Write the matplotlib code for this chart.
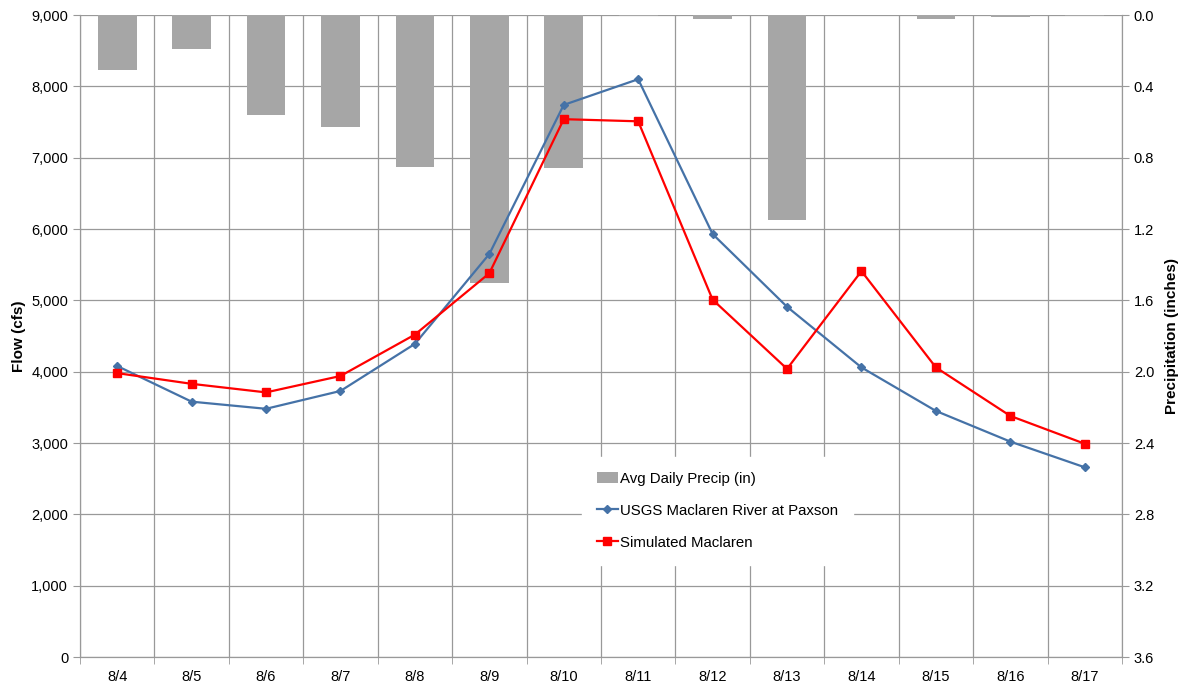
import matplotlib.pyplot as plt
from matplotlib.ticker import FuncFormatter
import numpy as np

plt.rcParams['font.family'] = ['Liberation Sans', 'DejaVu Sans']

dates = ['8/4', '8/5', '8/6', '8/7', '8/8', '8/9', '8/10', '8/11',
         '8/12', '8/13', '8/14', '8/15', '8/16', '8/17']
precip = [0.31, 0.19, 0.56, 0.63, 0.85, 1.50, 0.86, 0.005,
          0.02, 1.15, 0.0, 0.025, 0.01, 0.005]
usgs_flow = [4080, 3580, 3480, 3730, 4390, 5650, 7740, 8100,
             5930, 4910, 4060, 3450, 3020, 2660]
sim_flow = [3980, 3830, 3710, 3940, 4520, 5380, 7540, 7510,
            5010, 4040, 5410, 4060, 3380, 2990]

x = np.arange(len(dates))
grid_col = '#999999'

fig = plt.figure(figsize=(11.83, 6.83), dpi=100)
ax = fig.add_subplot(111)
fig.subplots_adjust(left=0.0676, right=0.9484, top=0.978, bottom=0.038)
ax2 = ax.twinx()

# lines on top, bars + grid behind
ax.set_zorder(2)
ax.patch.set_visible(False)
ax2.set_zorder(1)

ax2.set_ylim(3.6, 0)
ax2.set_yticks(np.arange(0, 3.61, 0.4))
ax2.yaxis.set_major_formatter(FuncFormatter(lambda v, p: f'{v:.1f}'))
ax2.set_axisbelow(True)
ax2.grid(axis='y', color=grid_col, linewidth=0.9)
for b in np.arange(-0.5, len(dates), 1.0):
    ax2.axvline(b, color=grid_col, linewidth=0.9, zorder=0)
bars = ax2.bar(x, precip, width=0.52, color='#A6A6A6', zorder=2,
               label='Avg Daily Precip (in)')
ax2.set_ylabel('Precipitation (inches)', fontsize=11, fontweight='bold', labelpad=8)

l1, = ax.plot(x, usgs_flow, color='#4572A7', marker='D', markersize=4,
              linewidth=1.6, label='USGS Maclaren River at Paxson')
l2, = ax.plot(x, sim_flow, color='#FF0000', marker='s', markersize=6,
              linewidth=1.6, label='Simulated Maclaren')

ax.set_xlim(-0.5, len(dates) - 0.5)
ax.set_ylim(0, 9000)
ax.set_yticks(np.arange(0, 9001, 1000))
ax.yaxis.set_major_formatter(FuncFormatter(lambda v, p: f'{int(v):,}'))
ax.set_ylabel('Flow (cfs)', fontsize=11, fontweight='bold', labelpad=4)

ax.set_xticks(x)
ax.set_xticklabels(dates)
ax.set_xticks(np.arange(-0.5, len(dates), 1.0), minor=True)
ax.tick_params(axis='x', which='major', length=0, pad=9)
ax.tick_params(axis='x', which='minor', length=5, color=grid_col)
ax.tick_params(axis='y', length=5, color=grid_col)
ax2.tick_params(axis='y', length=5, color=grid_col)
for a in (ax, ax2):
    a.tick_params(labelsize=10.5)
    for s in a.spines.values():
        s.set_color(grid_col)
    a.spines['top'].set_visible(False)

leg = ax.legend([bars, l1, l2],
                ['Avg Daily Precip (in)', 'USGS Maclaren River at Paxson', 'Simulated Maclaren'],
                loc='center', bbox_to_anchor=(0.612, 0.228), frameon=True,
                fontsize=10.8, handlelength=1.4, handletextpad=0.15,
                labelspacing=1.2, borderpad=1.0, fancybox=False)
leg.get_frame().set_edgecolor('white')
leg.get_frame().set_facecolor('white')
leg.get_frame().set_alpha(1)

plt.savefig('out.png', dpi=100)
